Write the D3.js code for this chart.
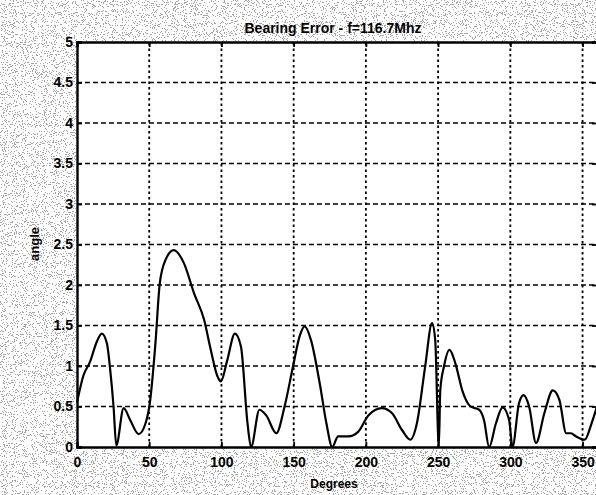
<!DOCTYPE html>
<html lang="en">

<head>
    <meta charset="UTF-8" />
    <title>Bearing Error</title>
    <script src="https://d3js.org/d3.v7.js"></script>
    <style>
        body { margin: 0; }
    </style>
</head>

<body>
    <svg id="chart"></svg>
</body>

<script>
// values
var degrees = [0, 4.4, 9, 13.7, 17.2, 20.7, 23, 25.3, 27.2, 32.3, 36.9, 42.7, 47.4, 50.4, 54.3, 57.3, 61.3, 67, 74, 81,
    88, 92.6, 97.3, 99.6, 104, 109.3, 113.5, 118, 120.5, 126.3, 131, 138, 143.7, 149.5, 154, 157.6, 162, 168, 172.7, 176.7,
    180.8, 187.8, 194.8, 201.7, 211, 218, 225, 230.7, 235.4, 241, 245.8, 248, 250.5, 251.5, 254, 257.9, 262, 266.7, 272.5, 278.3,
    281.8, 285.3, 290, 294.6, 299.2, 301.5, 306, 309.2, 313, 317.8, 323.6, 329.4, 334, 338.7, 342, 345.6, 351.5, 356.2, 360];
var angle = [0.55, 0.88, 1.05, 1.30, 1.40, 1.28, 0.95, 0.50, 0.02, 0.48, 0.33, 0.16, 0.29, 0.54, 1.28, 2.02, 2.31, 2.43, 2.27, 1.90,
    1.57, 1.20, 0.87, 0.81, 1.07, 1.40, 1.24, 0.30, 0.0, 0.46, 0.39, 0.17, 0.50, 0.99, 1.36, 1.49, 1.32, 0.79, 0.29, 0.0,
    0.13, 0.13, 0.19, 0.39, 0.48, 0.42, 0.21, 0.09, 0.30, 0.99, 1.53, 1.32, 0.0, 0.7, 0.99, 1.2, 1.03, 0.70, 0.5, 0.46,
    0.33, 0.0, 0.29, 0.49, 0.33, 0.0, 0.54, 0.64, 0.5, 0.05, 0.42, 0.70, 0.58, 0.17, 0.17, 0.13, 0.09, 0.29, 0.5];
var xTicks = [0, 50, 100, 150, 200, 250, 300, 350];
var yTicks = [0, 0.5, 1, 1.5, 2, 2.5, 3, 3.5, 4, 4.5, 5];
var yTickLabels = ["0", "0.5", "1", "1.5", "2", "2.5", "3", "3.5", "4", "4.5", "5"];

var width = 596, height = 495;
var mLeft = 77, mTop = 42, mRight = 597, mBottom = 447;
var font = "'Liberation Sans', Arial, sans-serif";

var svg = d3.select("#chart")
    .attr("width", width)
    .attr("height", height);

// speckled scanner background
var defs = svg.append("defs");
var f = defs.append("filter").attr("id", "speckle")
    .attr("x", 0).attr("y", 0).attr("width", "100%").attr("height", "100%");
f.append("feTurbulence")
    .attr("type", "fractalNoise")
    .attr("baseFrequency", 0.9)
    .attr("numOctaves", 2)
    .attr("seed", 7)
    .attr("result", "noise");
f.append("feColorMatrix")
    .attr("type", "matrix")
    .attr("values", "0 0 0 0 0.3  0 0 0 0 0.3  0 0 0 0 0.3  -4 0 0 0 2.2")
    .attr("result", "dots");
f.append("feComponentTransfer")
    .append("feFuncA").attr("type", "discrete").attr("tableValues", "0 0 0.85");

svg.append("rect")
    .attr("width", width).attr("height", height)
    .attr("fill", "#ffffff");
svg.append("rect")
    .attr("width", width).attr("height", height)
    .attr("fill", "#000")
    .attr("filter", "url(#speckle)");

var x = d3.scaleLinear().domain([0, 360]).range([mLeft, mRight]);
var y = d3.scaleLinear().domain([0, 5]).range([mBottom, mTop]);

// plot area
svg.append("rect")
    .attr("x", x(0)).attr("y", y(5))
    .attr("width", x(360) - x(0)).attr("height", y(0) - y(5))
    .attr("fill", "#fff");

// grid
svg.append("g")
    .selectAll("line")
    .data(yTicks.slice(1, -1))
    .join("line")
    .attr("x1", x(0)).attr("x2", x(360))
    .attr("y1", d => y(d)).attr("y2", d => y(d))
    .attr("stroke", "#000")
    .attr("stroke-width", 1.6)
    .attr("stroke-dasharray", "5,3");

svg.append("g")
    .selectAll("line")
    .data(xTicks.slice(1))
    .join("line")
    .attr("x1", d => x(d)).attr("x2", d => x(d))
    .attr("y1", y(0)).attr("y2", y(5))
    .attr("stroke", "#000")
    .attr("stroke-width", 1.8)
    .attr("stroke-dasharray", "2.5,3");

// axes
var xAxis = d3.axisBottom(x).tickValues(xTicks).tickSize(-5).tickPadding(10).tickFormat(d3.format("d"));
var yAxis = d3.axisLeft(y).tickValues(yTicks).tickSize(-5).tickPadding(4).tickFormat((d, i) => yTickLabels[i]);

svg.append("g").attr("transform", `translate(0,${mBottom})`).call(xAxis);
svg.append("g").attr("transform", `translate(${mLeft},0)`).call(yAxis);
svg.append("g").attr("transform", `translate(0,${mTop})`)
    .call(d3.axisTop(x).tickValues(xTicks).tickSize(-5).tickFormat(""));
svg.append("g").attr("transform", `translate(${mRight},0)`)
    .call(d3.axisRight(y).tickValues(yTicks).tickSize(-5).tickFormat(""));

svg.selectAll(".domain").attr("stroke-width", 2.4);
svg.selectAll(".tick line").attr("stroke-width", 1.8);
svg.selectAll(".tick text")
    .attr("font-family", font)
    .attr("font-size", 14)
    .attr("font-weight", "bold")
    .attr("fill", "#000");

// curve
var line = d3.line()
    .x((d, i) => x(degrees[i]))
    .y(d => y(d))
    .curve(d3.curveMonotoneX);

svg.append("path")
    .datum(angle)
    .attr("d", line)
    .attr("fill", "none")
    .attr("stroke", "#000")
    .attr("stroke-width", 2.2)
    .attr("stroke-linejoin", "round");

// titles
svg.append("text")
    .attr("x", 333).attr("y", 33)
    .attr("text-anchor", "middle")
    .attr("font-family", font)
    .attr("font-size", 14)
    .attr("font-weight", "bold")
    .text("Bearing Error - f=116.7Mhz");

svg.append("text")
    .attr("x", 334).attr("y", 488)
    .attr("text-anchor", "middle")
    .attr("font-family", font)
    .attr("font-size", 12)
    .attr("font-weight", "bold")
    .text("Degrees");

svg.append("text")
    .attr("transform", "translate(39,244) rotate(-90)")
    .attr("text-anchor", "middle")
    .attr("font-family", font)
    .attr("font-size", 13)
    .attr("font-weight", "bold")
    .attr("fill", "#000")
    .text("angle");
</script>

</html>
